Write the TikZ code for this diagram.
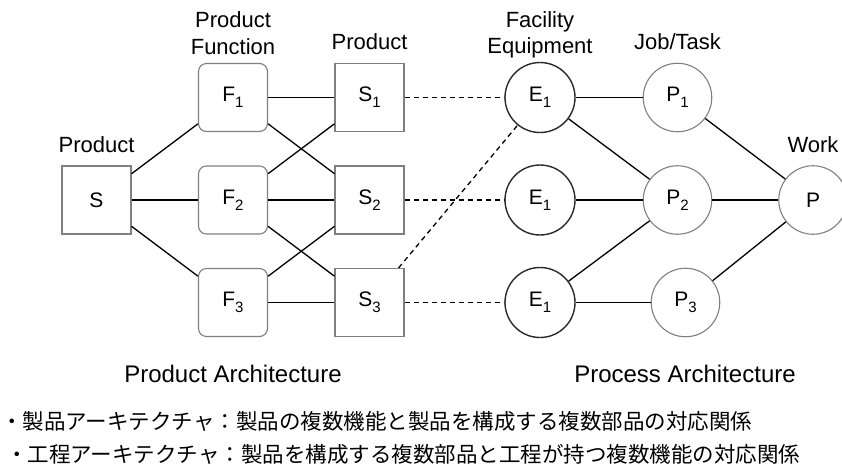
\documentclass[tikz,border=0pt]{standalone}
\usepackage{fontspec}
\setmainfont{Liberation Sans}
\newfontfamily\jpfont{Noto Sans CJK JP}
\definecolor{boxgray}{HTML}{7F7F7F}
\definecolor{ringdark}{HTML}{2A2A2A}
% lowered index digit inside a node label
\newcommand{\idx}[1]{\raisebox{-0.3em}{\fontsize{15}{15}\selectfont #1}}

\begin{document}
\begin{tikzpicture}[x=1pt,y=-1pt,
  nodefont/.style={font=\fontsize{21}{21}\selectfont},
  sqbox/.style={draw=boxgray, line width=1.1pt, fill=white, minimum width=69pt,
                minimum height=68pt, inner sep=0pt, nodefont},
  fnbox/.style={sqbox, rounded corners=8pt},
  eqring/.style={circle, draw=ringdark, line width=1.4pt, fill=white,
                 minimum size=70pt, inner sep=0pt, nodefont},
  jobring/.style={circle, draw=boxgray, line width=1.1pt, fill=white,
                  minimum size=68.5pt, inner sep=0pt, nodefont},
  link/.style={line width=1.3pt, black},
  dlink/.style={link, dash pattern=on 5pt off 4pt},
  lbl/.style={font=\fontsize{22}{22}\selectfont, inner sep=0pt, anchor=base},
  arch/.style={font=\fontsize{24}{24}\selectfont, inner sep=0pt, anchor=base},
  jp/.style={font=\jpfont\fontsize{21.5}{21.5}\selectfont, inner sep=0pt, anchor=west}
]
\useasboundingbox (0,0) rectangle (842,472);

% product side
\node[sqbox] (S)  at (96.5,200) {S};
\node[fnbox] (F1) at (233,97.5)  {F\idx{1}};
\node[fnbox] (F2) at (233,200)   {F\idx{2}};
\node[fnbox] (F3) at (233,302.5) {F\idx{3}};
\node[sqbox] (S1) at (369.5,97.5)  {S\idx{1}};
\node[sqbox] (S2) at (369.5,200)   {S\idx{2}};
\node[sqbox] (S3) at (369.5,302.5) {S\idx{3}};

% process side
\node[eqring] (E1) at (540,97.5)  {E\idx{1}};
\node[eqring] (E2) at (540,200)   {E\idx{1}};
\node[eqring] (E3) at (540,302.5) {E\idx{1}};
\node[jobring] (P1) at (677.5,97.5)  {P\idx{1}};
\node[jobring] (P2) at (677.5,200)   {P\idx{2}};
\node[jobring] (P3) at (685.5,302.5) {P\idx{3}};
\node[jobring] (P)  at (813,200)     {P};

% column headings
\node[lbl] (hS)   at (96.5,152) {Product};
\node[lbl] (hF1)  at (233,27)   {Product};
\node[lbl] (hF2)  at (233,54)   {Function};
\node[lbl] (hSi)  at (369.5,49) {Product};
\node[lbl] (hE1)  at (540,27)   {Facility};
\node[lbl] (hE2)  at (540,53)   {Equipment};
\node[lbl] (hP)   at (677.5,49) {Job/Task};
\node[lbl] (hW)   at (813,152)  {Work};

% product architecture links
\draw[link] (S) -- (F1);
\draw[link] (S) -- (F2);
\draw[link] (S) -- (F3);
\draw[link] (F1) -- (S1);
\draw[link] (F1) -- (S2);
\draw[link] (F2) -- (S1);
\draw[link] (F2) -- (S2);
\draw[link] (F2) -- (S3);
\draw[link] (F3) -- (S2);
\draw[link] (F3) -- (S3);

% parts to equipment
\draw[dlink] (S1) -- (E1);
\draw[dlink] (S2) -- (E2);
\draw[dlink] (S3) -- (E3);
\draw[dlink] ([xshift=-6pt]S3.north east) -- (E1.231);

% process architecture links
\draw[link] (E1) -- (P1);
\draw[link] (E1) -- (P2);
\draw[link] (E2) -- (P2);
\draw[link] (E3) -- (P2);
\draw[link] (E3) -- (P3);
\draw[link] (P1) -- (P);
\draw[link] (P2) -- (P);
\draw[link] (P3) -- (P);

% captions
\node[arch] (capA) at (233,382) {Product Architecture};
\node[arch] (capB) at (685,382) {Process Architecture};
\node[jp] (noteA) at (1,421) {・製品アーキテクチャ：製品の複数機能と製品を構成する複数部品の対応関係};
\node[jp] (noteB) at (6,454) {・工程アーキテクチャ：製品を構成する複数部品と工程が持つ複数機能の対応関係};
\end{tikzpicture}
\end{document}
